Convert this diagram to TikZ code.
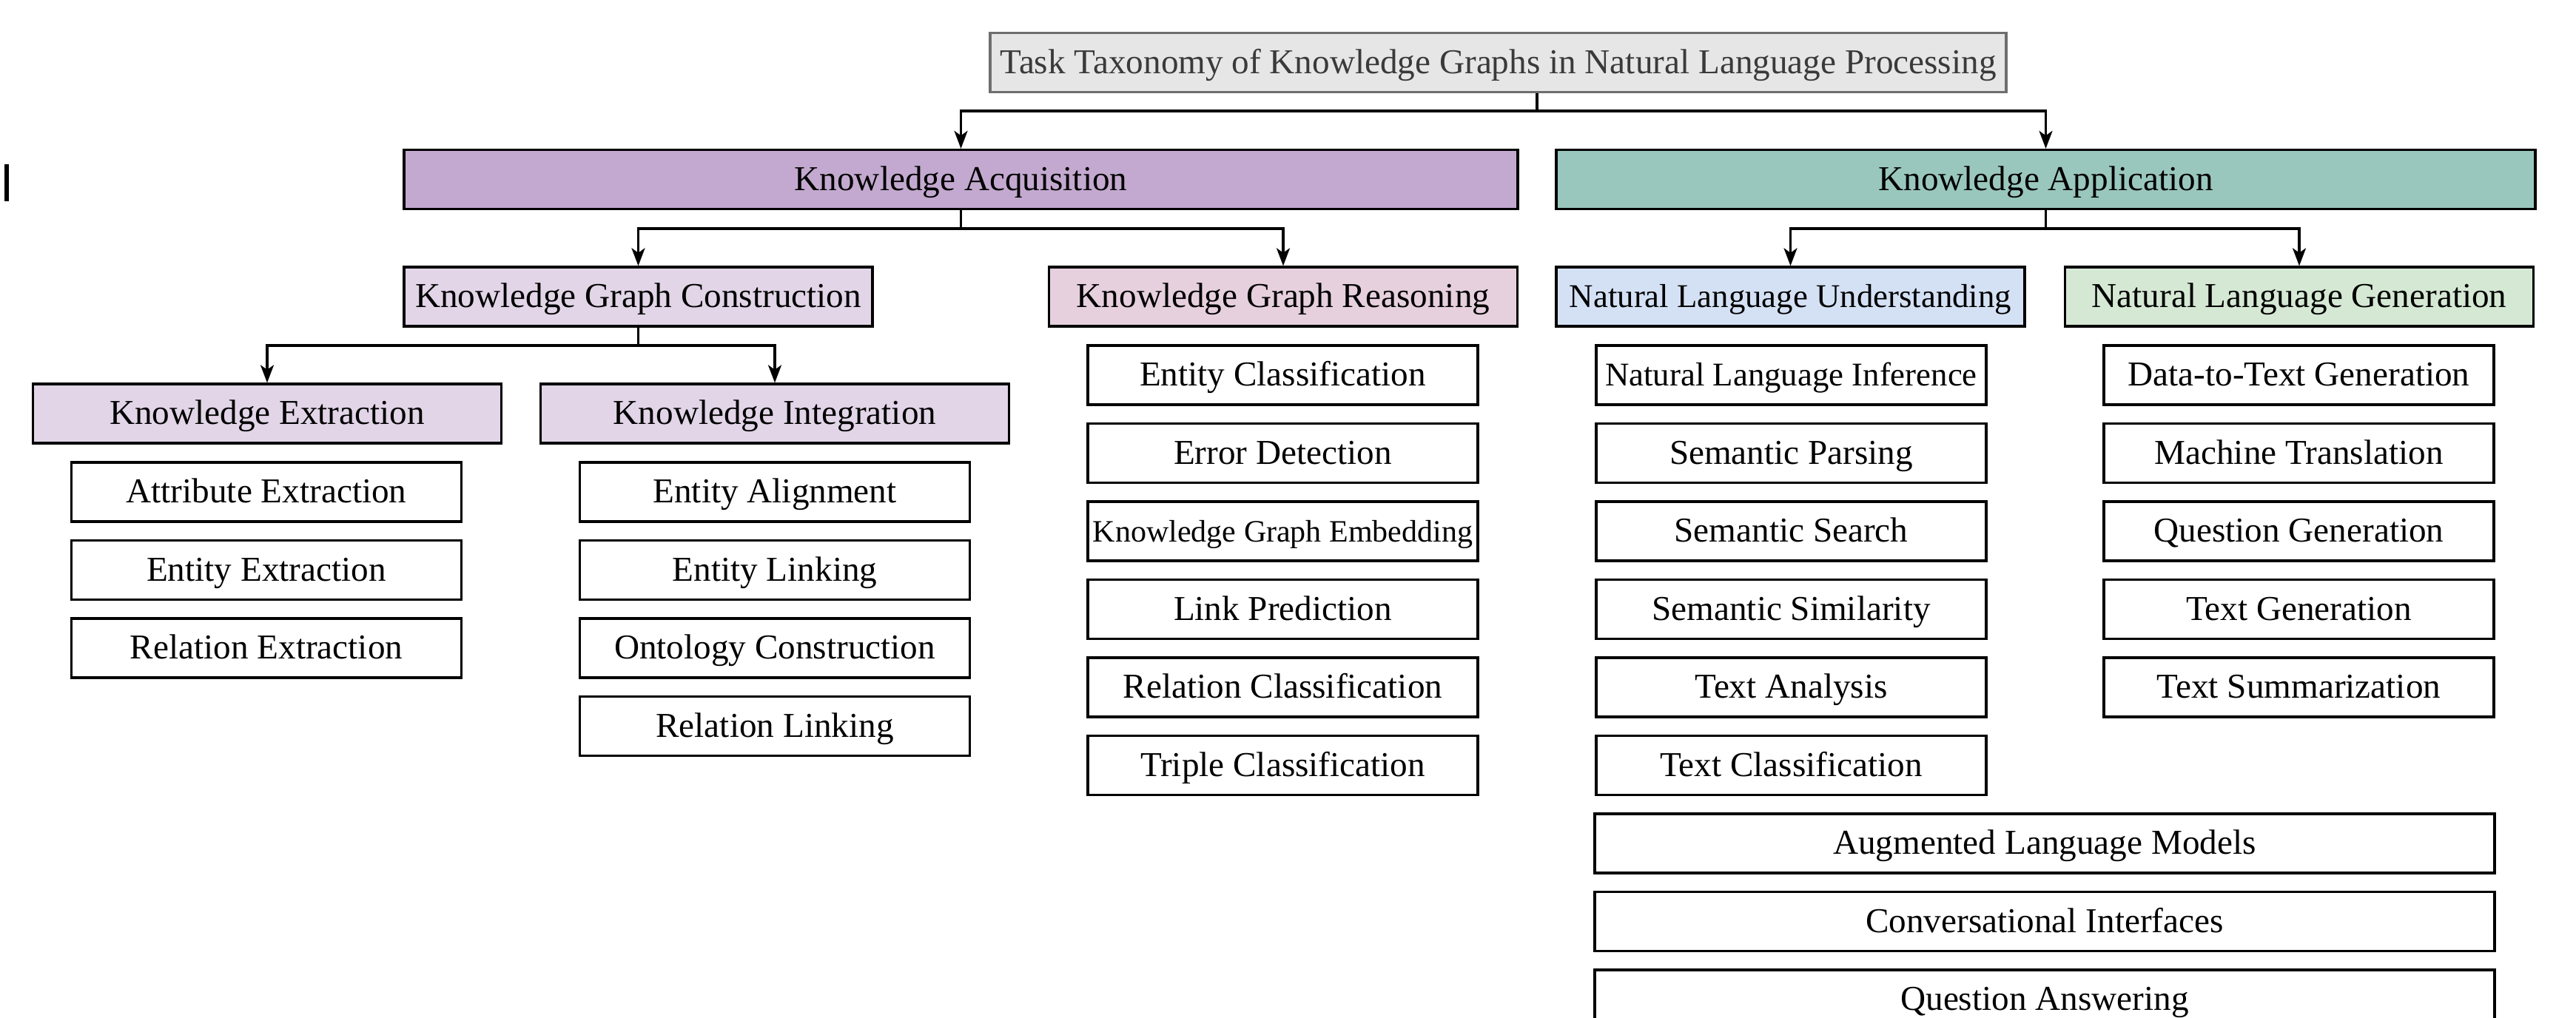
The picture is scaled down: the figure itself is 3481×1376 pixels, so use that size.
\documentclass[tikz,border=0pt]{standalone}
\usepackage{fontspec}
\setmainfont{Liberation Serif}
\usetikzlibrary{arrows.meta}
\definecolor{titlefill}{HTML}{E6E6E6}
\definecolor{titledraw}{HTML}{6E6E6E}
\definecolor{titletext}{HTML}{3A3A3A}
\definecolor{acqfill}{HTML}{C3A9CF}
\definecolor{appfill}{HTML}{9AC7BD}
\definecolor{lavfill}{HTML}{E1D5E7}
\definecolor{pinkfill}{HTML}{E6D0DE}
\definecolor{bluefill}{HTML}{D4E1F5}
\definecolor{greenfill}{HTML}{D5E8D4}
\tikzset{
  box/.style={draw=black, line width=0.8pt, rectangle, inner sep=0pt,
    minimum height=20pt, text height=9.5pt, text depth=2pt,
    font=\fontsize{11.8}{14}\selectfont, text=black},
  hdr/.style={box, minimum width=158.25pt},
  leaf/.style={box, fill=white, minimum width=131.75pt},
  wide/.style={box, fill=white, minimum width=304pt},
  conn/.style={draw=black, line width=0.8pt},
  arr/.style={conn, -{Stealth[length=6pt,width=4.5pt,inset=1.6pt]}}
}
\begin{document}
\begin{tikzpicture}[x=0.25pt, y=-0.25pt]
\useasboundingbox (0,0) rectangle (3481,1376);
\fill[black] (6,222) rectangle (12,272);

% title
\node[box, draw=titledraw, fill=titlefill, text=titletext, minimum width=343.25pt] (title) at (2024.5,84.5) {Task Taxonomy of Knowledge Graphs in Natural Language Processing};

% level 1
\node[box, fill=acqfill, minimum width=376.25pt] (kacq) at (1298.5,242.5) {Knowledge Acquisition};
\node[box, fill=appfill, minimum width=330.75pt] (kapp) at (2764.5,242.5) {Knowledge Application};

% level 2
\node[hdr, fill=lavfill] (kgc) at (862.5,401) {Knowledge Graph Construction};
\node[hdr, fill=pinkfill] (kgr) at (1734,401) {Knowledge Graph Reasoning};
\node[hdr, fill=bluefill, font=\fontsize{11.2}{13}\selectfont] (nlu) at (2419.5,401) {Natural Language Understanding};
\node[hdr, fill=greenfill] (nlg) at (3107,401) {Natural Language Generation};

% level 3
\node[hdr, fill=lavfill] (ke) at (361,559) {Knowledge Extraction};
\node[hdr, fill=lavfill] (ki) at (1047,559) {Knowledge Integration};

% leaves: knowledge extraction
\node[leaf] (ke1) at (360,665) {Attribute Extraction};
\node[leaf] (ke2) at (360,770.5) {Entity Extraction};
\node[leaf] (ke3) at (360,876) {Relation Extraction};

% leaves: knowledge integration
\node[leaf] (ki1) at (1047,665) {Entity Alignment};
\node[leaf] (ki2) at (1047,770.5) {Entity Linking};
\node[leaf] (ki3) at (1047,876) {Ontology Construction};
\node[leaf] (ki4) at (1047,981.5) {Relation Linking};

% leaves: reasoning
\node[leaf] (kr1) at (1733.5,507) {Entity Classification};
\node[leaf] (kr2) at (1733.5,612.5) {Error Detection};
\node[leaf, font=\fontsize{10.5}{12}\selectfont] (kr3) at (1733.5,718) {Knowledge Graph Embedding};
\node[leaf] (kr4) at (1733.5,823.5) {Link Prediction};
\node[leaf] (kr5) at (1733.5,929) {Relation Classification};
\node[leaf] (kr6) at (1733.5,1034.5) {Triple Classification};

% leaves: NLU
\node[leaf, font=\fontsize{11.2}{13}\selectfont] (nu1) at (2420.5,507) {Natural Language Inference};
\node[leaf] (nu2) at (2420.5,612.5) {Semantic Parsing};
\node[leaf] (nu3) at (2420.5,718) {Semantic Search};
\node[leaf] (nu4) at (2420.5,823.5) {Semantic Similarity};
\node[leaf] (nu5) at (2420.5,929) {Text Analysis};
\node[leaf] (nu6) at (2420.5,1034.5) {Text Classification};

% leaves: NLG
\node[leaf] (ng1) at (3106.5,507) {Data-to-Text Generation};
\node[leaf] (ng2) at (3106.5,612.5) {Machine Translation};
\node[leaf] (ng3) at (3106.5,718) {Question Generation};
\node[leaf] (ng4) at (3106.5,823.5) {Text Generation};
\node[leaf] (ng5) at (3106.5,929) {Text Summarization};

% wide leaves
\node[wide] (w1) at (2763,1140) {Augmented Language Models};
\node[wide] (w2) at (2763,1245.5) {Conversational Interfaces};
\node[wide] (w3) at (2763,1351) {Question Answering};

% connectors
\coordinate (j0) at (2077,150);
\draw[conn] (j0 |- title.south) -- (j0);
\draw[arr] (j0) -| (kacq.north);
\draw[arr] (j0) -| (kapp.north);

\coordinate (j1) at (1298.5,309);
\draw[conn] (kacq.south) -- (j1);
\draw[arr] (j1) -| (kgc.north);
\draw[arr] (j1) -| (kgr.north);

\coordinate (j2) at (2764.5,309);
\draw[conn] (kapp.south) -- (j2);
\draw[arr] (j2) -| (nlu.north);
\draw[arr] (j2) -| (nlg.north);

\coordinate (j3) at (862.5,467);
\draw[conn] (kgc.south) -- (j3);
\draw[arr] (j3) -| (ke.north);
\draw[arr] (j3) -| (ki.north);
\end{tikzpicture}
\end{document}
